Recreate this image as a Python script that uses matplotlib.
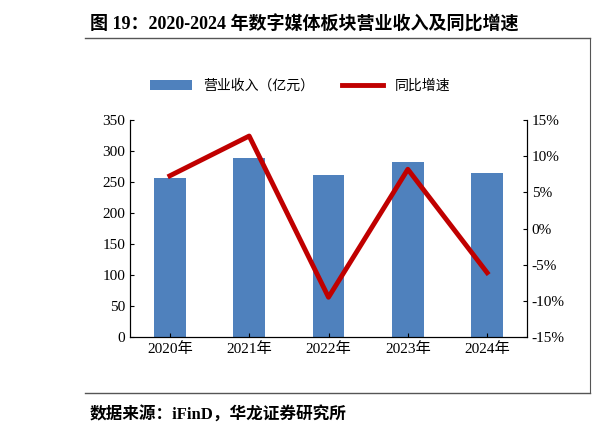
import matplotlib.pyplot as plt
import numpy as np

plt.rcParams['font.family'] = ['Liberation Serif', 'Noto Sans CJK SC']

years = ['2020年', '2021年', '2022年', '2023年', '2024年']
revenue = [256, 289, 261, 282, 265]
growth = [7.3, 12.8, -9.5, 8.2, -6.1]

fig = plt.figure(figsize=(6, 4.4), dpi=100)
ax = fig.add_axes([0.217, 0.234, 0.661, 0.493])
x = np.arange(len(years))
bars = ax.bar(x, revenue, width=0.4, color='#4f81bd', label='营业收入（亿元）')
ax.set_ylim(0, 350)
ax.set_yticks(range(0, 351, 50))
ax.set_xlim(-0.5, 4.5)
ax.set_xticks(x)
ax.set_xticklabels(years)
ax.spines['top'].set_visible(False)
ax.tick_params(labelsize=11, direction='in', length=3)

ax2 = ax.twinx()
line, = ax2.plot(x, growth, color='#c00000', linewidth=3.5, label='同比增速')
ax2.set_ylim(-15, 15)
ax2.set_yticks(range(-15, 16, 5))
ax2.set_yticklabels([f'{v}%' for v in range(-15, 16, 5)])
ax2.spines['top'].set_visible(False)
ax2.tick_params(labelsize=11, direction='in', length=3)

fig.legend([bars, line], ['营业收入（亿元）', '同比增速'], loc='center',
           bbox_to_anchor=(0.5, 0.805), ncol=2, frameon=False, fontsize=10,
           handlelength=3, columnspacing=2)

fig.text(0.15, 0.945, '图 19：2020-2024 年数字媒体板块营业收入及同比增速',
         fontsize=13, fontweight='bold', va='center')
fig.add_artist(plt.Line2D([0.142, 0.983], [0.914, 0.914], color='#555555', lw=1))
fig.add_artist(plt.Line2D([0.142, 0.983], [0.107, 0.107], color='#555555', lw=1))
fig.add_artist(plt.Line2D([0.983, 0.983], [0.107, 0.914], color='#555555', lw=0.8))
fig.text(0.15, 0.057, '数据来源：iFinD，华龙证券研究所', fontsize=12,
         fontweight='bold', va='center')

fig.savefig('out.png', dpi=100)
